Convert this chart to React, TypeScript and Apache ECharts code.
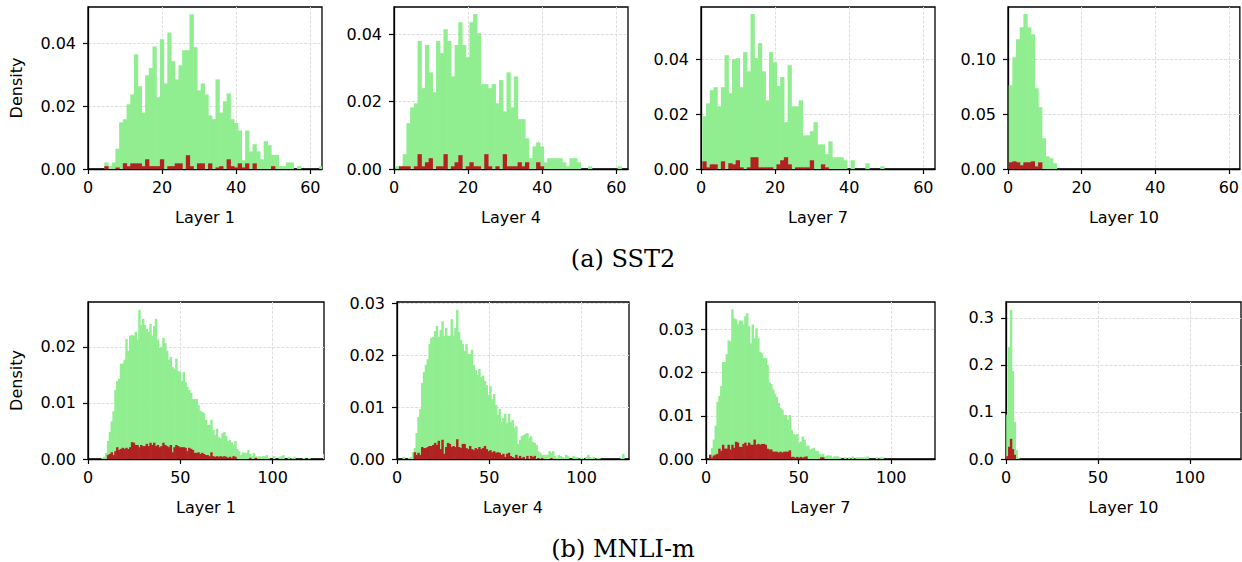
import { useEffect, useRef } from 'react';
import * as echarts from 'echarts';

const GREEN = '#90ee90';
const RED = '#b22222';
const FONT = 'DejaVu Sans';
const BIN_WIDTH = 1;

// ---------- SST2 ----------
const sst2L1Start = 4.4;
const sst2L1Green = [0.0021,0.0009,0.0021,0.0065,0.0149,0.0159,0.0207,0.0238,0.0366,0.0264,0.0180,0.0299,0.0322,0.0391,0.0229,0.0414,0.0273,0.0436,0.0344,0.0286,0.0331,0.0379,0.0379,0.0494,0.0389,0.0251,0.0273,0.0238,0.0171,0.0159,0.0286,0.0180,0.0216,0.0241,0.0159,0.0147,0.0123,0.0028,0.0123,0.0056,0.0079,0.0056,0.0031,0.0089,0.0076,0.0045,0.0045,0.0009,0.0009,0.0021,0.0021,0,0.0009,0,0,0,0,0,0.0009];
const sst2L1Red = [0.0009,0,0,0.0005,0,0.0018,0.0009,0.0018,0.0018,0.0018,0.0009,0.0031,0.0009,0.0009,0.0009,0.0031,0,0.0009,0.0009,0.0018,0.0018,0,0.0044,0.0009,0,0.0018,0.0018,0,0.0018,0,0.0005,0.0009,0,0.0031,0.0009,0.0005,0.0018,0.0005,0.0018,0,0.0018,0,0,0,0,0.0009];

const sst2L4Start = 0.35;
const sst2L4Green = [0.0008,0.0008,0.0044,0.0136,0.0183,0.0195,0.0380,0.0240,0.0368,0.0287,0.0228,0.0380,0.0344,0.0415,0.0380,0.0275,0.0368,0.0436,0.0368,0.0332,0.0436,0.0460,0.0403,0.0252,0.0252,0.0240,0.0252,0.0195,0.0264,0.0171,0.0287,0.0183,0.0275,0.0148,0.0148,0.0091,0.0032,0.0067,0.0079,0.0067,0.0020,0.0032,0.0032,0.0032,0.0032,0.0020,0.0008,0.0032,0.0032,0.0020,0,0,0.0008,0,0,0,0,0,0,0,0.0008];
const sst2L4Red = [0,0.0008,0.0008,0.0008,0,0.0008,0.0044,0.0008,0.0020,0.0032,0,0.0008,0.0008,0.0044,0,0.0008,0.0020,0.0041,0,0.0008,0.0020,0.0008,0.0008,0,0.0044,0.0008,0,0.0008,0,0.0044,0.0008,0.0008,0.0008,0.0020,0.0008,0.0020,0,0,0.0020,0.0008];

const sst2L7Start = 0.36;
const sst2L7Green = [0.0193,0.0240,0.0288,0.0299,0.0229,0.0299,0.0416,0.0277,0.0401,0.0405,0.0299,0.0427,0.0357,0.0566,0.0405,0.0460,0.0357,0.0251,0.0427,0.0390,0.0303,0.0336,0.0171,0.0379,0.0229,0.0229,0.0251,0.0123,0.0123,0.0138,0.0171,0.0090,0.0090,0.0054,0.0101,0.0043,0.0043,0.0043,0.0032,0,0.0032,0,0,0,0.0021,0,0,0,0.0010];
const sst2L7Red = [0.0028,0.0006,0.0017,0.0017,0,0.0028,0,0.0021,0.0017,0.0032,0.0006,0,0.0006,0.0043,0.0043,0.0006,0.0006,0.0006,0.0006,0,0.0017,0.0032,0.0043,0.0017,0,0.0006,0.0006,0.0006,0.0006,0.0032,0,0,0.0017,0.0006];

const sst2L10Start = 0.18;
const sst2L10Green = [0.0765,0.1021,0.1186,0.1296,0.1415,0.1296,0.1232,0.0738,0.0564,0.0281,0.0116,0.0098,0.0052];
const sst2L10Red = [0.0061,0.0070,0.0061,0.0034,0.0061,0.0061,0.0070,0.0024,0.0061];

// ---------- MNLI-m ----------
const mnliL1Start = 7.2;
const mnliL1Green = [
  0.0002,0.0004,0.0011,0.0032,0.0048,0.0067,0.0085,0.0123,0.0139,0.0143,
  0.0170,0.0170,0.0177,0.0214,0.0193,0.0220,0.0221,0.0220,0.0227,0.0213,
  0.0266,0.0239,0.0250,0.0239,0.0232,0.0227,0.0241,0.0220,0.0237,0.0250,
  0.0213,0.0198,0.0200,0.0216,0.0207,0.0193,0.0177,0.0182,0.0164,0.0161,
  0.0179,0.0157,0.0155,0.0139,0.0155,0.0137,0.0129,0.0123,0.0118,0.0107,
  0.0107,0.0107,0.0096,0.0086,0.0084,0.0082,0.0070,0.0061,0.0061,0.0070,
  0.0052,0.0043,0.0054,0.0039,0.0037,0.0046,0.0048,0.0041,0.0032,0.0034,
  0.0030,0.0025,0.0032,0.0018,0.0014,0.0007,0.0012,0.0011,0.0011,0.0016,
  0.0009,0.0005,0.0011,0.0005,0.0004,0.0005,0.0004,0.0005,0.0005,0.0007,
  0.0002,0,0,0.0005,0,0,0.0004,0.0005,0.0007,0,
  0,0.0004,0,0.0002,0.0004,0,0,0,0,0.0002,
  0,0,0.0002,0,0,0,0,0,0,0,0.0009];
const mnliL1Red = [
  0,0,0,0.0007,0.0009,0.0012,0.0007,0.0014,0.0021,0.0016,
  0.0018,0.0020,0.0018,0.0020,0.0018,0.0021,0.0030,0.0029,0.0025,0.0025,
  0.0021,0.0025,0.0023,0.0023,0.0027,0.0023,0.0029,0.0025,0.0029,0.0023,
  0.0025,0.0021,0.0023,0.0029,0.0025,0.0023,0.0021,0.0025,0.0012,0.0021,
  0.0025,0.0023,0.0021,0.0021,0.0021,0.0020,0.0014,0.0020,0.0018,0.0016,
  0.0011,0.0011,0.0012,0.0009,0.0011,0.0009,0.0007,0.0007,0.0005,0.0012,
  0.0005,0.0004,0.0005,0.0004,0.0005,0.0004,0.0005,0.0004,0.0002,0.0004,
  0.0002,0.0005,0.0004,0,0,0,0,0,0,0,
  0.0002,0,0,0.0002];

const mnliL4Start = 3.0;
const mnliL4Green = [
  0.0004,0,0,0.0002,0.0004,0.0013,0.0021,0.0050,0.0081,0.0096,
  0.0146,0.0167,0.0181,0.0192,0.0221,0.0233,0.0235,0.0246,0.0256,0.0235,
  0.0248,0.0265,0.0237,0.0252,0.0237,0.0237,0.0269,0.0237,0.0252,0.0287,
  0.0244,0.0229,0.0221,0.0208,0.0221,0.0202,0.0202,0.0210,0.0181,0.0171,
  0.0162,0.0173,0.0158,0.0160,0.0150,0.0142,0.0123,0.0140,0.0115,0.0125,
  0.0104,0.0085,0.0096,0.0071,0.0079,0.0087,0.0069,0.0087,0.0071,0.0075,
  0.0060,0.0063,0.0029,0.0037,0.0044,0.0046,0.0048,0.0050,0.0040,0.0044,
  0.0033,0.0031,0.0027,0.0015,0.0012,0.0008,0.0008,0.0008,0.0008,0.0015,
  0.0012,0.0015,0.0006,0.0002,0.0008,0.0006,0.0004,0.0002,0.0008,0.0006,
  0,0,0.0006,0.0004,0.0004,0,0.0002,0.0002,0,0.0004,
  0.0008,0.0004,0.0002,0.0004,0,0.0002,0.0002,0,0,0,
  0,0,0,0,0,0,0,0,0.0002,0.0010];
const mnliL4Red = [
  0,0,0,0,0,0,0.0013,0.0008,0.0012,0.0008,
  0.0023,0.0021,0.0021,0.0023,0.0025,0.0025,0.0027,0.0031,0.0027,0.0035,
  0.0019,0.0037,0.0010,0.0023,0.0031,0.0029,0.0023,0.0025,0.0023,0.0038,
  0.0023,0.0021,0.0029,0.0029,0.0021,0.0019,0.0025,0.0019,0.0017,0.0021,
  0.0019,0.0023,0.0019,0.0021,0.0025,0.0019,0.0015,0.0017,0.0013,0.0015,
  0.0012,0.0013,0.0012,0.0008,0.0010,0.0004,0.0010,0.0012,0.0006,0.0004,
  0.0002,0.0008,0.0002,0.0006,0.0002,0.0004,0,0.0006,0,0.0006,
  0.0004,0.0006,0,0.0002,0,0.0002,0,0,0,0,0.0002];

const mnliL7Start = 1.6;
const mnliL7Green = [
  0.0003,0.0026,0.0045,0.0077,0.0132,0.0146,0.0169,0.0225,0.0225,0.0243,
  0.0275,0.0273,0.0347,0.0326,0.0324,0.0312,0.0321,0.0321,0.0312,0.0331,
  0.0338,0.0308,0.0268,0.0312,0.0280,0.0303,0.0280,0.0248,0.0245,0.0234,
  0.0234,0.0218,0.0178,0.0174,0.0162,0.0151,0.0144,0.0130,0.0118,0.0114,
  0.0102,0.0102,0.0091,0.0102,0.0068,0.0058,0.0056,0.0058,0.0038,0.0040,
  0.0052,0.0045,0.0031,0.0031,0.0022,0.0024,0.0026,0.0019,0.0019,0.0012,
  0.0010,0.0012,0.0005,0.0008,0.0008,0.0008,0.0004,0.0006,0.0006,0.0006,
  0.0004,0,0,0.0004,0,0.0004,0,0.0006,0,0.0004,
  0.0004,0.0004,0.0004,0.0004,0.0004,0.0006,0,0,0,0,
  0.0004,0,0.0004,0.0004];
const mnliL7Red = [
  0.0010,0.0003,0.0008,0.0010,0.0012,0.0024,0.0019,0.0033,0.0024,0.0024,
  0.0033,0.0022,0.0033,0.0026,0.0040,0.0038,0.0028,0.0028,0.0035,0.0038,
  0.0031,0.0038,0.0033,0.0033,0.0045,0.0033,0.0035,0.0033,0.0035,0.0035,
  0.0033,0.0024,0.0022,0.0022,0.0017,0.0017,0.0017,0.0015,0.0017,0.0015,
  0.0017,0.0017,0.0017,0.0020,0.0005,0.0005,0.0003,0.0005,0.0003,0.0005,
  0.0003,0.0005,0.0006,0,0,0,0,0,0,0,
  0.0004,0.0004];

const mnliL10Start = 0.1;
const mnliL10Green = [0.094,0.238,0.317,0.187,0.079,0.019,0.002];
const mnliL10Red = [0.006,0.026,0.043,0.021,0.009];

// ---------- axes ----------
const sst2XTicks = [0, 20, 40, 60];
const mnliXTicks = [0, 50, 100];
const layerNames = ['Layer 1', 'Layer 4', 'Layer 7', 'Layer 10'];
const captions = ['(a) SST2', '(b) MNLI-m'];

type Panel = {
  grid: { left: number; top: number; width: number; height: number };
  xMax: number; xTicks: number[];
  yMax: number; yTicks: number[]; yDigits: number;
  name: string; density: boolean;
  start: number; green: number[]; red: number[];
};

const panels: Panel[] = [
  { grid: { left: 88, top: 7, width: 234, height: 162 }, xMax: 63.15, xTicks: sst2XTicks, yMax: 0.0517, yTicks: [0, 0.02, 0.04], yDigits: 2, name: layerNames[0], density: true, start: sst2L1Start, green: sst2L1Green, red: sst2L1Red },
  { grid: { left: 394, top: 7, width: 234, height: 162 }, xMax: 63.15, xTicks: sst2XTicks, yMax: 0.0481, yTicks: [0, 0.02, 0.04], yDigits: 2, name: layerNames[1], density: false, start: sst2L4Start, green: sst2L4Green, red: sst2L4Red },
  { grid: { left: 701, top: 7, width: 234, height: 162 }, xMax: 63.15, xTicks: sst2XTicks, yMax: 0.0592, yTicks: [0, 0.02, 0.04], yDigits: 2, name: layerNames[2], density: false, start: sst2L7Start, green: sst2L7Green, red: sst2L7Red },
  { grid: { left: 1008, top: 7, width: 233, height: 162 }, xMax: 63.0, xTicks: sst2XTicks, yMax: 0.148, yTicks: [0, 0.05, 0.1], yDigits: 2, name: layerNames[3], density: false, start: sst2L10Start, green: sst2L10Green, red: sst2L10Red },
  { grid: { left: 88, top: 302, width: 236, height: 157 }, xMax: 127.8, xTicks: mnliXTicks, yMax: 0.028, yTicks: [0, 0.01, 0.02], yDigits: 2, name: layerNames[0], density: true, start: mnliL1Start, green: mnliL1Green, red: mnliL1Red },
  { grid: { left: 397, top: 302, width: 232, height: 157 }, xMax: 125.7, xTicks: mnliXTicks, yMax: 0.0302, yTicks: [0, 0.01, 0.02, 0.03], yDigits: 2, name: layerNames[1], density: false, start: mnliL4Start, green: mnliL4Green, red: mnliL4Red },
  { grid: { left: 706, top: 302, width: 229, height: 157 }, xMax: 123.6, xTicks: mnliXTicks, yMax: 0.0364, yTicks: [0, 0.01, 0.02, 0.03], yDigits: 2, name: layerNames[2], density: false, start: mnliL7Start, green: mnliL7Green, red: mnliL7Red },
  { grid: { left: 1006, top: 302, width: 235, height: 157 }, xMax: 127.8, xTicks: mnliXTicks, yMax: 0.334, yTicks: [0, 0.1, 0.2, 0.3], yDigits: 1, name: layerNames[3], density: false, start: mnliL10Start, green: mnliL10Green, red: mnliL10Red },
];

function toBins(values: number[], start: number) {
  const out: number[][] = [];
  values.forEach((v, i) => {
    if (v > 0) out.push([start + i * BIN_WIDTH, start + (i + 1) * BIN_WIDTH, v]);
  });
  return out;
}

// each bin is drawn as a rect between its two edges; a half-pixel overlap hides SVG seams
const renderBar = (color: string) => (_params: any, api: any) => {
  const a = api.coord([api.value(0), api.value(2)]);
  const b = api.coord([api.value(1), 0]);
  return {
    type: 'rect',
    shape: { x: a[0], y: a[1], width: b[0] - a[0] + 0.6, height: b[1] - a[1] },
    style: { fill: color },
  };
};

const SPINE = '#000';
const gridLine = { show: true, lineStyle: { color: '#dedede', width: 1, type: [3, 1.5] as any } };
const tickStyle = { color: '#000', width: 1.2 };
const labelStyle = { fontSize: 16, fontFamily: FONT, color: '#000' };

function buildOption() {
  const grid: any[] = [];
  const xAxis: any[] = [];
  const yAxis: any[] = [];
  const series: any[] = [];
  panels.forEach((p, i) => {
    grid.push({ ...p.grid, show: true, borderColor: SPINE, borderWidth: 1.3, backgroundColor: '#fff' });
    xAxis.push({
      type: 'value', gridIndex: i, min: 0, max: p.xMax, interval: p.xTicks[1] - p.xTicks[0],
      name: p.name, nameLocation: 'middle', nameGap: 40,
      nameTextStyle: { ...labelStyle },
      axisLine: { show: true, onZero: false, lineStyle: { color: SPINE, width: 1.3 } },
      axisTick: { show: true, length: 5, lineStyle: tickStyle, customValues: p.xTicks },
      axisLabel: { ...labelStyle, margin: 10, customValues: p.xTicks, formatter: (v: number) => String(v) },
      splitLine: gridLine,
    });
    yAxis.push({
      type: 'value', gridIndex: i, min: 0, max: p.yMax, interval: p.yTicks[1] - p.yTicks[0],
      name: p.density ? 'Density' : '', nameLocation: 'middle', nameGap: 64, nameRotate: 90,
      nameTextStyle: { ...labelStyle },
      axisLine: { show: true, onZero: false, lineStyle: { color: SPINE, width: 1.3 } },
      axisTick: { show: true, length: 5, lineStyle: tickStyle, customValues: p.yTicks },
      axisLabel: { ...labelStyle, margin: 12, customValues: p.yTicks, formatter: (v: number) => v.toFixed(p.yDigits) },
      splitLine: gridLine,
    });
    series.push({
      type: 'custom', name: 'all', xAxisIndex: i, yAxisIndex: i, clip: true, z: 2,
      renderItem: renderBar(GREEN), encode: { x: [0, 1], y: 2 },
      data: toBins(p.green, p.start),
    });
    series.push({
      type: 'custom', name: 'sel', xAxisIndex: i, yAxisIndex: i, clip: true, z: 3,
      renderItem: renderBar(RED), encode: { x: [0, 1], y: 2 },
      data: toBins(p.red, p.start),
    });
  });
  return {
    animation: false,
    backgroundColor: '#fff',
    grid, xAxis, yAxis, series,
    graphic: [
      { type: 'text', x: 623, y: 259, style: { text: captions[0], textAlign: 'center', textVerticalAlign: 'middle', fontSize: 24, fontFamily: 'DejaVu Serif', fill: '#000' } },
      { type: 'text', x: 623, y: 549, style: { text: captions[1], textAlign: 'center', textVerticalAlign: 'middle', fontSize: 24, fontFamily: 'DejaVu Serif', fill: '#000' } },
    ],
  };
}

export default function App() {
  const ref = useRef<HTMLDivElement>(null);
  useEffect(() => {
    if (!ref.current) return;
    const chart = echarts.init(ref.current, undefined, { renderer: 'svg' });
    chart.setOption(buildOption() as any);
    return () => chart.dispose();
  }, []);
  return <div ref={ref} style={{ position: 'absolute', left: 0, top: 0, width: 1242, height: 562 }} />;
}
